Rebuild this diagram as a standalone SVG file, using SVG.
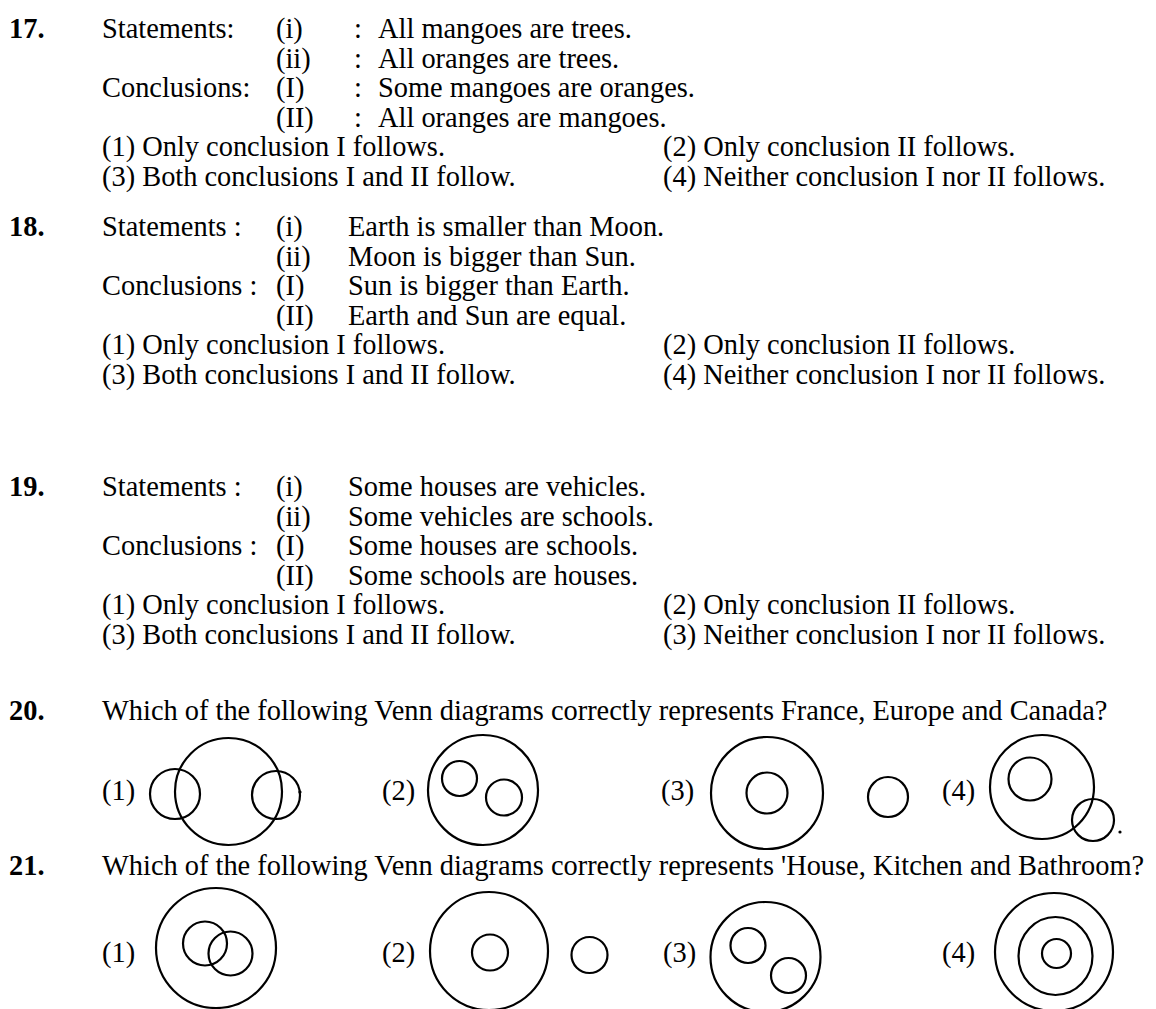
<svg xmlns="http://www.w3.org/2000/svg" width="1156" height="1009" viewBox="0 0 1156 1009">
<style>
text{font-family:"Liberation Serif","Times New Roman",serif;font-size:28.4px;fill:#000}
.b{font-weight:bold}
.c{fill:none;stroke:#000;stroke-width:2.2}
</style>
<rect width="1156" height="1009" fill="#fff"/>
<g id="q17">
<text class="b" x="9" y="38">17.</text>
<text x="102" y="38">Statements:</text><text x="276" y="38">(i)</text><text x="354" y="38">:</text><text x="378" y="38">All mangoes are trees.</text>
<text x="276" y="67.5">(ii)</text><text x="354" y="67.5">:</text><text x="378" y="67.5">All oranges are trees.</text>
<text x="102" y="97">Conclusions:</text><text x="276" y="97">(I)</text><text x="354" y="97">:</text><text x="378" y="97">Some mangoes are oranges.</text>
<text x="276" y="126.5">(II)</text><text x="354" y="126.5">:</text><text x="378" y="126.5">All oranges are mangoes.</text>
<text x="102" y="156">(1) Only conclusion I follows.</text><text x="663" y="156">(2) Only conclusion II follows.</text>
<text x="102" y="185.5">(3) Both conclusions I and II follow.</text><text x="663" y="185.5">(4) Neither conclusion I nor II follows.</text>
</g>
<g id="q18">
<text class="b" x="9" y="236">18.</text>
<text x="102" y="236">Statements :</text><text x="276" y="236">(i)</text><text x="348" y="236">Earth is smaller than Moon.</text>
<text x="276" y="265.5">(ii)</text><text x="348" y="265.5">Moon is bigger than Sun.</text>
<text x="102" y="295">Conclusions :</text><text x="276" y="295">(I)</text><text x="348" y="295">Sun is bigger than Earth.</text>
<text x="276" y="324.5">(II)</text><text x="348" y="324.5">Earth and Sun are equal.</text>
<text x="102" y="354">(1) Only conclusion I follows.</text><text x="663" y="354">(2) Only conclusion II follows.</text>
<text x="102" y="383.5">(3) Both conclusions I and II follow.</text><text x="663" y="383.5">(4) Neither conclusion I nor II follows.</text>
</g>
<g id="q19">
<text class="b" x="9" y="496">19.</text>
<text x="102" y="496">Statements :</text><text x="276" y="496">(i)</text><text x="348" y="496">Some houses are vehicles.</text>
<text x="276" y="525.5">(ii)</text><text x="348" y="525.5">Some vehicles are schools.</text>
<text x="102" y="555">Conclusions :</text><text x="276" y="555">(I)</text><text x="348" y="555">Some houses are schools.</text>
<text x="276" y="584.5">(II)</text><text x="348" y="584.5">Some schools are houses.</text>
<text x="102" y="614">(1) Only conclusion I follows.</text><text x="663" y="614">(2) Only conclusion II follows.</text>
<text x="102" y="643.5">(3) Both conclusions I and II follow.</text><text x="663" y="643.5">(3) Neither conclusion I nor II follows.</text>
</g>
<g id="q20">
<text class="b" x="9" y="720">20.</text>
<text x="102" y="720">Which of the following Venn diagrams correctly represents France, Europe and Canada?</text>
<text x="102" y="800">(1)</text>
<circle class="c" cx="228.5" cy="791.5" r="53.5"/><circle class="c" cx="175" cy="794" r="25"/><circle class="c" cx="276" cy="795" r="24"/>
<circle cx="300" cy="792" r="1.6"/>
<text x="382" y="800">(2)</text>
<circle class="c" cx="483" cy="790" r="55"/><circle class="c" cx="459.5" cy="778.5" r="17.5"/><circle class="c" cx="504" cy="797.5" r="18"/>
<text x="661" y="800">(3)</text>
<circle class="c" cx="767" cy="793" r="56"/><circle class="c" cx="767" cy="793" r="20.5"/><circle class="c" cx="888" cy="797" r="20"/>
<text x="942" y="800">(4)</text>
<circle class="c" cx="1042" cy="787" r="52"/><circle class="c" cx="1030" cy="779" r="21.5"/><circle class="c" cx="1093" cy="820" r="21"/>
<circle cx="1120" cy="832" r="1.6"/>
</g>
<g id="q21">
<text class="b" x="9" y="875">21.</text>
<text x="102" y="875">Which of the following Venn diagrams correctly represents 'House, Kitchen and Bathroom?</text>
<text x="102" y="962">(1)</text>
<circle class="c" cx="216" cy="948" r="60"/><circle class="c" cx="205" cy="943.5" r="22"/><circle class="c" cx="230.5" cy="953.5" r="22"/>
<text x="382" y="962">(2)</text>
<circle class="c" cx="489" cy="951" r="59"/><circle class="c" cx="490" cy="952.5" r="18"/><circle class="c" cx="589.5" cy="955" r="18"/>
<text x="663" y="962">(3)</text>
<circle class="c" cx="765.5" cy="957" r="55"/><circle class="c" cx="748" cy="945.5" r="17.5"/><circle class="c" cx="788.5" cy="975.5" r="17.5"/>
<text x="942" y="962">(4)</text>
<circle class="c" cx="1054" cy="952" r="59"/><ellipse class="c" cx="1055.5" cy="956" rx="37" ry="39"/><circle class="c" cx="1056.5" cy="953.5" r="14.5"/>
</g>
</svg>
